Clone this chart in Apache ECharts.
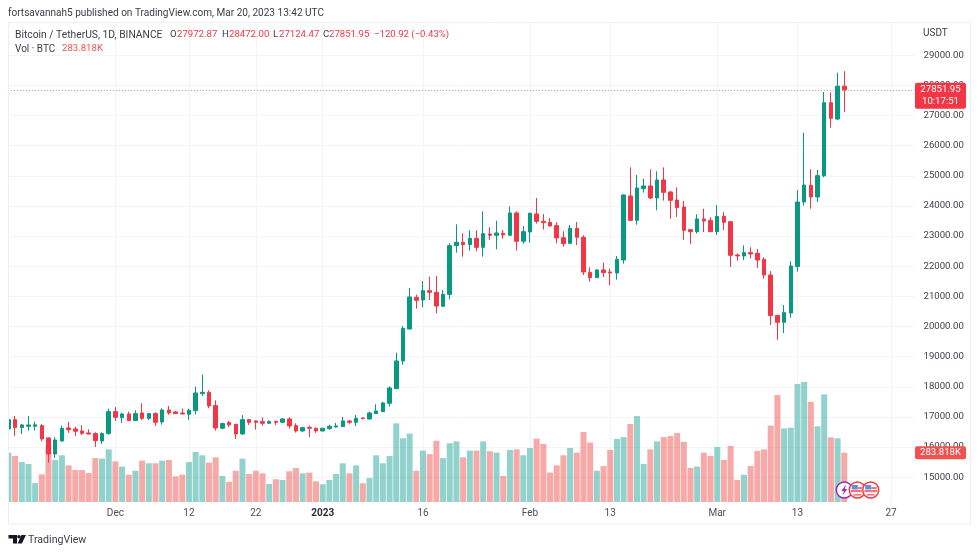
<!DOCTYPE html>
<html><head><meta charset="utf-8">
<style>html,body{margin:0;padding:0;background:#fff}#c{width:980px;height:554px}</style>
<script src="https://cdn.jsdelivr.net/npm/echarts@6/dist/echarts.min.js"></script>
</head><body><div id="c"></div>
<script>
const opens=[16600,16909,16644,16688,16690,16710,16301,15770,16201,16633,16600,16533,16467,16445,16201,16445,17175,16976,17097,16876,17130,16953,17108,16832,17230,17164,17130,17086,17208,17772,17816,17374,16622,16810,16754,16434,16909,16865,16843,16788,16854,16821,16931,16710,16533,16655,16622,16533,16611,16666,16677,16865,16821,16965,16931,17108,17175,17451,17938,18856,19917,20968,20879,21189,21134,20669,21067,22682,22793,22715,22925,22627,23069,23025,23091,23025,23766,22826,23135,23733,23489,23456,23346,22947,22759,23257,22959,21797,21620,21875,21808,21775,22206,24330,23522,24573,24662,24263,24861,24462,24197,23965,23213,23146,23567,23522,23146,23655,23478,22372,22339,22450,22427,22228,21708,20370,20138,20448,21985,24131,24684,24297,25000,27426,26884,27972.87];
const closes=[16909,16644,16732,16732,16735,16268,15770,16235,16622,16577,16522,16456,16434,16212,16445,17175,16987,17097,16876,17108,16953,17108,16821,17230,17130,17108,17097,17219,17794,17816,17363,16633,16777,16732,16434,16909,16821,16821,16788,16843,16821,16931,16699,16533,16644,16622,16533,16622,16688,16699,16865,16821,16953,16943,17130,17197,17462,17960,18856,19940,20979,20868,21189,21134,20680,21067,22682,22793,22715,22925,22627,23080,23025,23102,23036,23766,22826,23147,23755,23489,23445,23335,22936,22748,23257,22959,21808,21620,21875,21786,21775,22229,24363,23522,24595,24662,24263,24861,24451,24186,23943,23190,23146,23567,23500,23146,23655,23456,22361,22339,22450,22405,22206,21708,20359,20138,20459,22007,24131,24695,24297,25004,27426,26906,27972.87,27851.95];
const lows=[16511,16367,16434,16544,16544,16190,15483,15637,16179,16467,16367,16400,16412,16002,16102,16412,16865,16799,16865,16865,16898,16898,16699,16743,17075,17097,17086,16898,17086,17695,17285,16544,16589,16666,16268,16412,16732,16577,16710,16765,16732,16810,16611,16478,16500,16334,16467,16522,16566,16644,16666,16754,16699,16920,16920,17097,17164,17340,17916,18734,19906,20592,20636,20879,20437,20658,20901,22450,22317,22516,22494,22317,22870,22560,22914,23014,22516,22748,22782,23412,23213,23312,22759,22649,22748,22704,21709,21488,21609,21642,21366,21554,22085,23511,23379,24440,24230,23854,24175,23578,23633,22870,22737,23080,23135,23135,23036,23202,21974,22184,22206,22262,21941,21587,20050,19563,19784,20293,21819,24009,23909,24131,24949,26597,26851,27124.47];
const highs=[17175,17031,16765,17031,16843,16754,16323,16323,16710,16832,16677,16721,16589,16489,16489,17274,17330,17130,17175,17219,17451,17130,17153,17285,17363,17197,17274,17274,18004,18402,17883,17551,16810,16865,16765,17064,16931,16887,16987,16887,16865,16965,16987,16788,16666,16710,16644,16633,16743,16799,16998,16887,17064,16987,17175,17418,17495,18015,19132,20017,21278,21056,21510,21653,21676,21211,22759,23390,23091,23191,23191,23821,23290,23512,23202,23987,23821,23335,23777,24264,23733,23600,23456,23158,23368,23467,23025,21963,21897,22118,21919,22339,24385,25281,25026,24905,25215,25148,25281,24496,24617,24164,23235,23721,23909,23622,24031,23799,23489,22427,22693,22626,22571,22295,21841,20370,20713,22162,24529,26431,25215,25192,27780,27769,28422,28472];
const volumes=[284,265,230,219,109,159,328,242,269,211,184,184,167,253,250,303,234,204,157,180,238,223,223,238,242,148,157,230,288,269,227,257,150,115,180,250,161,180,165,104,131,127,177,196,165,169,119,102,127,161,223,165,211,108,138,269,223,265,453,367,394,180,296,276,353,253,338,349,257,296,296,349,292,284,150,300,303,269,311,365,334,169,211,269,311,284,403,342,180,207,300,363,374,449,495,219,303,349,374,380,397,346,196,204,284,265,317,242,323,127,157,207,294,303,440,616,424,428,680,691,576,436,620,372,367,283.818];
const tickLabels={'2022-12-01':'Dec','2022-12-12':'12','2022-12-22':'22','2023-01-01':'2023','2023-01-16':'16','2023-02-01':'Feb','2023-02-13':'13','2023-03-01':'Mar','2023-03-13':'13','2023-03-27':'27'};
const priceTicks=[15000,16000,17000,18000,19000,20000,21000,22000,23000,24000,25000,26000,27000,28000,29000];

const categories=[];
for(let i=0;i<136;i++){categories.push(new Date(Date.UTC(2022,10,15+i)).toISOString().slice(0,10));}
const UP='#089981',DOWN='#f23645',VUP='rgba(38,166,154,0.5)',VDOWN='rgba(239,83,80,0.5)';
const FONT='Roboto,sans-serif';
const SIZE=9.6;
const candles=opens.map((o,i)=>[o,closes[i],lows[i],highs[i]]);
const volData=volumes.map((v,i)=>({value:v,itemStyle:{color:closes[i]>=opens[i]?VUP:VDOWN}}));
const isTick=(i,v)=>tickLabels[v]!==undefined;

function txt(x,y,s,fill,size){return {type:'text',z:50,x:x,y:y,style:{text:s,fill:fill||'#333',font:(size||SIZE)+'px '+FONT,textVerticalAlign:'middle'}};}
const G=[];
G.push({type:'rect',z:40,shape:{x:0,y:22,width:8.5,height:502},style:{fill:'#fff'}});
G.push({type:'rect',z:41,shape:{x:8.5,y:22.5,width:962,height:501.5},style:{fill:'none',stroke:'#eceef2',lineWidth:1}});
G.push(txt(8,13,'fortsavannah5 published on TradingView.com, Mar 20, 2023 13:42 UTC','#3a3d45',10.05));
G.push(txt(15,35,'Bitcoin / TetherUS, 1D, BINANCE','#3a3d45',10.3));
[[170,'O'],[222,'H'],[273,'L'],[323,'C']].forEach(a=>G.push(txt(a[0],35,a[1],'#3a3d45')));
[[177,'27972.87'],[229,'28472.00'],[279,'27124.47'],[329,'27851.95'],[374,'\u2212120.92 (\u22120.43%)']].forEach(a=>G.push(txt(a[0],35,a[1],'#f23645')));
G.push(txt(15,49,'Vol \u00b7 BTC','#3a3d45',10));
G.push(txt(62,49,'283.818K','#ef5350'));
G.push(txt(923,33,'USDT','#3a3d45',10));
// TradingView logo
G.push({type:'polygon',z:50,shape:{points:[[8.5,535],[17,535],[17,543.5],[13,543.5],[13,538.5],[8.5,538.5]]},style:{fill:'#131722'}});
G.push({type:'circle',z:50,shape:{cx:19,cy:536.8,r:1.8},style:{fill:'#131722'}});
G.push({type:'polygon',z:50,shape:{points:[[21.5,535],[26,535],[21.8,543.5],[17.6,543.5]]},style:{fill:'#131722'}});
G.push(txt(28,540.5,'TradingView','#3a3d45',10.6));
// event markers
G.push({type:'circle',z:45,shape:{cx:844.3,cy:490,r:8},style:{fill:'#fff',stroke:'#9c27b0',lineWidth:1.5}});
G.push({type:'polygon',z:46,shape:{points:[[846,484.5],[841.5,491],[844,491],[842.5,495.5],[847.2,489],[844.8,489]]},style:{fill:'#9c27b0'}});
[857.3,870.7].forEach(cx=>{
  G.push({type:'circle',z:47,shape:{cx:cx,cy:490,r:8},style:{fill:'#fff',stroke:'#f23645',lineWidth:1.5}});
  G.push({type:'rect',z:48,shape:{x:cx-5.5,y:485,width:6,height:4.5},style:{fill:'#5b8fe0'}});
  G.push({type:'rect',z:48,shape:{x:cx+0.5,y:487,width:5.5,height:2},style:{fill:'#f7737d'}});
  G.push({type:'rect',z:48,shape:{x:cx-6.3,y:490,width:12.6,height:2.2},style:{fill:'#f7737d'}});
  G.push({type:'rect',z:48,shape:{x:cx-4,y:494,width:8,height:1.6},style:{fill:'#f7737d'}});
});

const chart=echarts.init(document.getElementById('c'),null,{renderer:'canvas'});
chart.setOption({
  animation:false,
  backgroundColor:'#fff',
  textStyle:{fontFamily:FONT},
  grid:[
    {left:5.06,right:65.5,top:25.1,bottom:46.7},
    {left:5.06,right:65.5,top:22,bottom:52}
  ],
  xAxis:[
    {type:'category',gridIndex:0,data:categories,show:false},
    {type:'category',gridIndex:1,data:categories,
     axisLine:{show:false},axisTick:{show:false},
     axisLabel:{interval:isTick,margin:6,hideOverlap:false,color:'#4a4e57',fontSize:10,fontFamily:FONT,
       formatter:v=>{const s=tickLabels[v]||'';return s==='2023'?'{b|'+s+'}':s;},
       rich:{b:{fontWeight:'bold',color:'#2a2e39',fontSize:10,fontFamily:FONT}}},
     splitLine:{show:true,interval:isTick,alignWithLabel:true,lineStyle:{color:'#f3f4f6',width:1}}}
  ],
  yAxis:[
    {type:'value',gridIndex:0,position:'right',min:14000,max:30000,interval:1000,scale:true,
     axisLine:{show:false},axisTick:{show:false},
     axisLabel:{margin:9,padding:[1,0,0,0],color:'#3f434c',fontSize:SIZE,fontFamily:FONT,
       formatter:v=>priceTicks.includes(v)?v.toFixed(2):''},
     splitLine:{show:true,showMinLine:false,showMaxLine:false,lineStyle:{color:'#f3f4f6',width:1}}},
    {type:'value',gridIndex:1,show:false,min:0,max:2765,splitLine:{show:false}}
  ],
  series:[
    {type:'bar',name:'Vol',xAxisIndex:1,yAxisIndex:1,data:volData,barWidth:6,z:1,
     markLine:{silent:true,symbol:'none',animation:false,
       lineStyle:{color:'rgba(0,0,0,0)',width:1},
       data:[{yAxis:volumes[volumes.length-1]}],
       label:{position:'end',distance:0,formatter:'283.818K',color:'#fff',fontSize:SIZE,fontFamily:FONT,
         backgroundColor:'#ef5350',borderRadius:2,width:43,align:'center',padding:[2,4,1,4],offset:[26,0]}}},
    {type:'candlestick',name:'BTCUSDT',xAxisIndex:0,yAxisIndex:0,data:candles,barWidth:4,z:3,
     itemStyle:{color:UP,color0:DOWN,borderColor:UP,borderColor0:DOWN,borderWidth:1},
     markLine:{silent:true,symbol:'none',animation:false,
       lineStyle:{color:'rgba(242,54,69,0.6)',width:1,type:[1,2]},
       data:[{yAxis:closes[closes.length-1]}],
       label:{position:'end',distance:0,formatter:'27851.95\n10:17:51',color:'#fff',fontSize:SIZE,lineHeight:12.5,fontFamily:FONT,
         backgroundColor:DOWN,borderRadius:2,width:43,align:'center',padding:[1,4,0,4],offset:[26,6]}}}
  ],
  graphic:G
});
</script></body></html>
